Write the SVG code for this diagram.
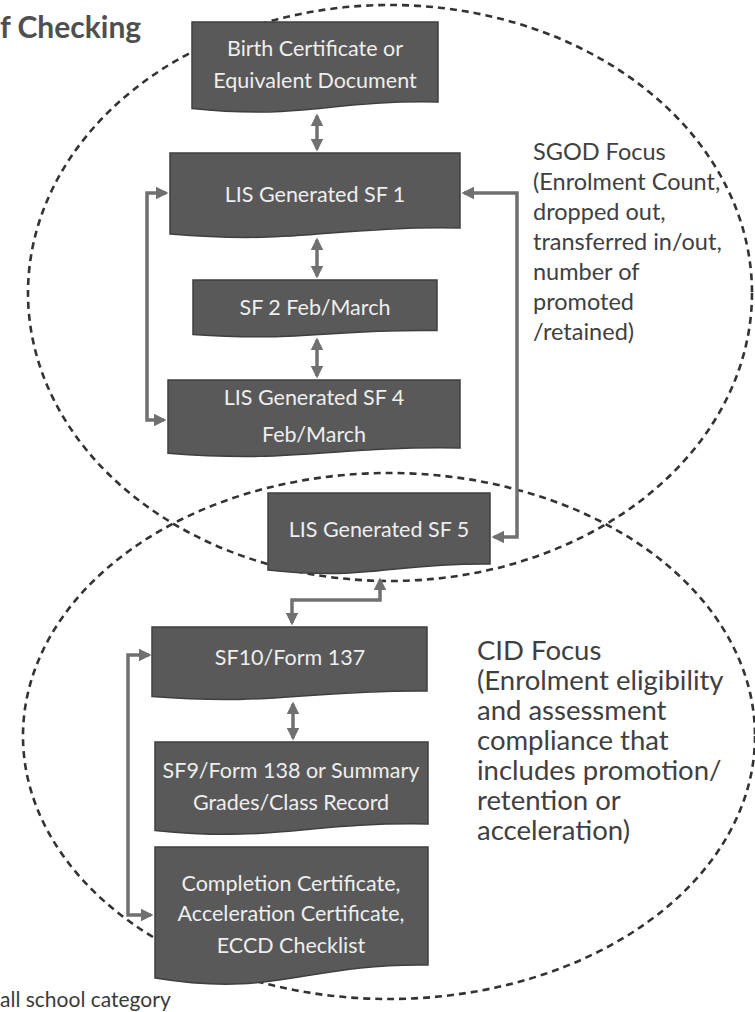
<svg xmlns="http://www.w3.org/2000/svg" width="755" height="1012" viewBox="0 0 755 1012">
<style>
.bg{fill:#ffffff}
.zone{fill:none;stroke:#333333;stroke-width:2.6;stroke-dasharray:7 5}
.doc{fill:#595959;stroke:#3f3f3f;stroke-width:1.5}
.bt{fill:#eeeeee;font-family:Lato,"Liberation Sans",sans-serif;font-size:21.5px;text-anchor:middle}
.conn{fill:none;stroke:#707070;stroke-width:3.5;marker-start:url(#ah);marker-end:url(#ah)}
.focus{fill:#404040;font-family:Lato,"Liberation Sans",sans-serif}
.title{fill:#4f4f4f;font-family:Lato,"Liberation Sans",sans-serif;font-weight:bold;font-size:30px}
.note{fill:#3a3a3a;font-family:Lato,"Liberation Sans",sans-serif;font-size:21px}
</style>
<defs>
<marker id="ah" viewBox="0 0 10 10" refX="8" refY="5" markerWidth="3.6" markerHeight="3.6" orient="auto-start-reverse" markerUnits="strokeWidth">
<path d="M0,0 L10,5 L0,10 Z" fill="#707070"/>
</marker>
</defs>
<rect class="bg" x="0" y="0" width="755" height="1012"/>
<text class="title" x="0" y="38">f Checking</text>
<g id="zones">
<ellipse id="zone-sgod" class="zone" cx="390" cy="293" rx="362" ry="288"/>
<ellipse id="zone-cid" class="zone" cx="389" cy="736" rx="366" ry="263"/>
</g>
<g id="connectors">
<path class="conn" d="M317,116 V149"/>
<path class="conn" d="M317,240 V276"/>
<path class="conn" d="M317,340 V376"/>
<path class="conn" d="M166,193 H147 V420 H164"/>
<path class="conn" d="M464,193 H517 V537 H494"/>
<path class="conn" d="M380,580 V600 H292 V623"/>
<path class="conn" d="M293,704 V738"/>
<path class="conn" d="M149,655 H128 V915 H151"/>
</g>
<g id="n-birth">
<path class="doc" d="M192,22 H438 V102 C327,100 303,120 192,108.5 Z"/>
<text class="bt" x="315" y="56">Birth Certificate or</text>
<text class="bt" x="315" y="88">Equivalent Document</text>
</g>
<g id="n-sf1">
<path class="doc" d="M170,153 H460 V228 C329.5,226 300.5,245 170,234 Z"/>
<text class="bt" x="315" y="202">LIS Generated SF 1</text>
</g>
<g id="n-sf2">
<path class="doc" d="M193,280 H437 V330.5 C327,329 303,342 193,334.5 Z"/>
<text class="bt" x="315" y="315">SF 2 Feb/March</text>
</g>
<g id="n-sf4">
<path class="doc" d="M168,380 H460 V448 C328.6,446 299.4,463.5 168,453.3 Z"/>
<text class="bt" x="314" y="405">LIS Generated SF 4</text>
<text class="bt" x="314" y="442">Feb/March</text>
</g>
<g id="n-sf5">
<path class="doc" d="M268,493 H490 V564 C390,563 368,581 268,570 Z"/>
<text class="bt" x="379" y="537">LIS Generated SF 5</text>
</g>
<g id="n-sf10">
<path class="doc" d="M152,627 H427 V691 C303,690 276,706 152,696.6 Z"/>
<text class="bt" x="290" y="665">SF10/Form 137</text>
</g>
<g id="n-sf9">
<path class="doc" d="M155,742 H428 V824 C305,822 278,842.6 155,830.4 Z"/>
<text class="bt" x="291" y="778">SF9/Form 138 or Summary</text>
<text class="bt" x="291" y="810">Grades/Class Record</text>
</g>
<g id="n-cert">
<path class="doc" d="M155,847 H428 V965 C305,963 278,998 155,978 Z"/>
<text class="bt" x="291" y="891">Completion Certificate,</text>
<text class="bt" x="291" y="921">Acceleration Certificate,</text>
<text class="bt" x="291" y="953">ECCD Checklist</text>
</g>
<g id="sgod-focus">
<text class="focus" font-size="23.5" x="533">
<tspan x="533" y="160">SGOD Focus</tspan>
<tspan x="533" y="190">(Enrolment Count,</tspan>
<tspan x="533" y="220">dropped out,</tspan>
<tspan x="533" y="250">transferred in/out,</tspan>
<tspan x="533" y="280">number of</tspan>
<tspan x="533" y="310">promoted</tspan>
<tspan x="533" y="340">/retained)</tspan>
</text>
</g>
<g id="cid-focus">
<text class="focus" font-size="27.5" x="477">
<tspan x="477" y="660">CID Focus</tspan>
<tspan x="477" y="690">(Enrolment eligibility</tspan>
<tspan x="477" y="720">and assessment</tspan>
<tspan x="477" y="750">compliance that</tspan>
<tspan x="477" y="780">includes promotion/</tspan>
<tspan x="477" y="810">retention or</tspan>
<tspan x="477" y="840">acceleration)</tspan>
</text>
</g>
<text class="note" x="0" y="1007">all school category</text>
</svg>
